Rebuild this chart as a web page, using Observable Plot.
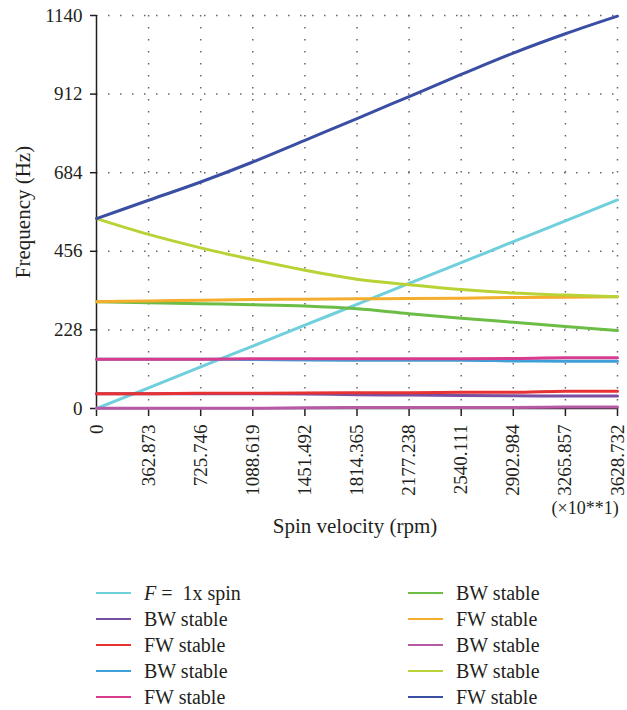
<!DOCTYPE html>
<html><head><meta charset="utf-8">
<script src="https://cdn.jsdelivr.net/npm/d3@7"></script>
<script src="https://cdn.jsdelivr.net/npm/@observablehq/plot@0.6"></script>
<style>
body{margin:0;background:#fff;font-family:"Liberation Serif","Times New Roman",serif;color:#231f20}
#legend{display:grid;grid-template-columns:312px 220px;grid-template-rows:repeat(5,26px);grid-auto-flow:column;padding-left:96px;padding-top:20px}
.item{display:flex;align-items:center;font-size:20px;white-space:pre}
.item svg{margin-right:13px}
</style></head><body><div id="chart"></div><div id="legend"></div>
<script>
const xTicks = [0, 362.873, 725.746, 1088.619, 1451.492, 1814.365, 2177.238, 2540.111, 2902.984, 3265.857, 3628.732];
const xTickLabels = ["0", "362.873", "725.746", "1088.619", "1451.492", "1814.365", "2177.238", "2540.111", "2902.984", "3265.857", "3628.732"];
const yTicks = [0, 228, 456, 684, 912, 1140];

const seriesNames = ["F = 1x spin", "BW stable", "FW stable", "BW stable", "FW stable", "BW stable", "FW stable", "BW stable", "BW stable", "FW stable"];
const seriesColors = ["#6fcfdb", "#7a4ea0", "#e63232", "#3f9fd8", "#d83c8f", "#6bbd45", "#f5ad2d", "#b65aa6", "#b7d335", "#3a4ea3"];

const spin1x   = [0, 60, 121, 181, 242, 302, 363, 423, 484, 544, 605];
const bw1      = [43, 43, 43, 43, 42, 40, 39, 38, 37, 36, 36];
const fw1      = [43, 43, 44, 44, 45, 46, 46, 47, 47, 50, 50];
const bw2      = [143, 143, 143, 142, 141, 140, 140, 140, 138, 137, 137];
const fw2      = [143, 143, 143, 144, 144, 144, 144, 144, 145, 147, 147];
const bw3      = [310, 307, 304, 301, 297, 289, 275, 262, 250, 238, 226];
const fw3      = [310, 312, 314, 316, 317, 318, 319, 320, 322, 323, 324];
const bw4      = [1, 1, 1, 1, 2, 3, 3, 3, 3, 4, 4];
const bw5      = [551, 505, 466, 432, 401, 375, 359, 345, 335, 329, 324];
const fw5      = [551, 604, 657, 715, 778, 841, 905, 969, 1031, 1087, 1138];

const seriesValues = [spin1x, bw1, fw1, bw2, fw2, bw3, fw3, bw4, bw5, fw5];
const labelMap = new Map(xTicks.map((d, i) => [d, xTickLabels[i]]));

const lineMarks = seriesValues.map((vals, s) =>
  Plot.line(xTicks.map((x, i) => ({x, y: vals[i]})), {
    x: "x", y: "y", stroke: seriesColors[s], strokeWidth: 3, curve: "monotone-x"
  })
);

const grid = {stroke: "#666", strokeOpacity: 1, strokeWidth: 1.5, strokeDasharray: "1.5,10.5"};

const chart = Plot.plot({
  width: 627, height: 560,
  marginLeft: 96, marginRight: 10, marginTop: 15, marginBottom: 152,
  style: {fontFamily: '"Liberation Serif", "Times New Roman", serif', fontSize: "19px", color: "#231f20", background: "#fff"},
  x: {domain: [0, 3628.732]},
  y: {domain: [0, 1140]},
  marks: [
    Plot.gridX(xTicks.slice(1), grid),
    Plot.gridY(yTicks.slice(1), grid),
    Plot.axisX(xTicks, {tickRotate: -90, tickFormat: d => labelMap.get(d), tickSize: 8, tickPadding: 8, label: null, fontSize: 19, stroke: "#231f20", strokeWidth: 1.5}),
    Plot.axisY(yTicks, {tickSize: 6, tickPadding: 8, label: null, fontSize: 19, tickFormat: d => String(d), stroke: "#231f20", strokeWidth: 1.5}),
    Plot.ruleY([0], {stroke: "#231f20", strokeWidth: 1.5}),
    Plot.ruleX([0], {stroke: "#231f20", strokeWidth: 1.5}),
    ...lineMarks,
    Plot.text(["Frequency (Hz)"], {frameAnchor: "left", textAnchor: "middle", rotate: -90, dx: -73, fontSize: 21}),
    Plot.text(["Spin velocity (rpm)"], {frameAnchor: "bottom", textAnchor: "middle", dx: -2, dy: 124, fontSize: 21}),
    Plot.text(["(×10**1)"], {frameAnchor: "bottom-right", textAnchor: "start", dx: -66, dy: 105, fontSize: 18})
  ]
});
document.getElementById("chart").appendChild(chart);

const legend = document.getElementById("legend");
seriesNames.forEach((name, i) => {
  const item = document.createElement("div");
  item.className = "item";
  const label = name.startsWith("F = ") ? "<i>F</i> =  1x spin" : name;
  item.innerHTML = `<svg width="35" height="4"><line x1="0" x2="35" y1="2" y2="2" stroke="${seriesColors[i]}" stroke-width="2"/></svg><span>${label}</span>`;
  legend.appendChild(item);
});
</script></body></html>
